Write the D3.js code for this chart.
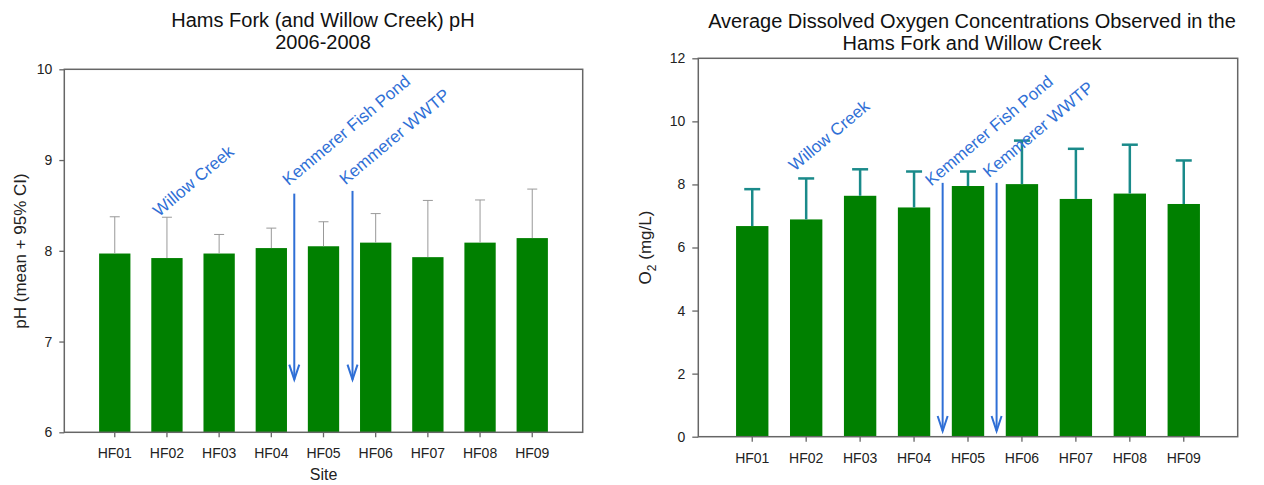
<!DOCTYPE html>
<html>
<head>
<meta charset="utf-8">
<script src="https://cdn.jsdelivr.net/npm/d3@7"></script>
<style>
  html, body { margin: 0; padding: 0; background: #fff; }
  svg { display: block; font-family: "Liberation Sans", Arial, sans-serif; }
</style>
</head>
<body>
<svg id="chart" width="1264" height="485"></svg>
<script>
// ---- data ----
const sites = ["HF01", "HF02", "HF03", "HF04", "HF05", "HF06", "HF07", "HF08", "HF09"];
const phMean  = [7.97, 7.92, 7.97, 8.03, 8.05, 8.09, 7.93, 8.09, 8.14];
const phUpper = [8.375, 8.37, 8.18, 8.25, 8.32, 8.41, 8.555, 8.56, 8.68];
const o2Mean  = [6.68, 6.89, 7.64, 7.27, 7.95, 8.01, 7.54, 7.71, 7.38];
const o2Upper = [7.85, 8.19, 8.48, 8.41, 8.41, 9.39, 9.13, 9.26, 8.76];
const phTicks = [6, 7, 8, 9, 10];
const o2Ticks = [0, 2, 4, 6, 8, 10, 12];
const annotationLabels = ["Willow Creek", "Kemmerer Fish Pond", "Kemmerer WWTP"];
// [fractional site index, value] of each label's start
const phLabelAt = [[0.85, 8.37], [3.33, 8.71], [4.42, 8.72]];
const o2LabelAt = [[0.79, 8.40], [3.32, 7.93], [4.39, 8.20]];
// [fractional site index, top value, tip value]
const phArrows = [[3.44, 8.63, 6.58], [4.556, 8.66, 6.58]];
const o2Arrows = [[3.53, 8.05, 0.18], [4.53, 8.05, 0.18]];
const phTitle = ["Hams Fork (and Willow Creek) pH", "2006-2008"];
const o2Title = ["Average Dissolved Oxygen Concentrations Observed in the", "Hams Fork and Willow Creek"];

const svg = d3.select("#chart");
const BAR = "#008000";
const BLUE = "#2f6fd6";
const FRAME = "#666";

function panel(cfg) {
  const g = svg.append("g");
  const x = d3.scaleBand().domain(sites).range([cfg.left, cfg.right])
    .paddingInner(0.4).paddingOuter(cfg.po);
  const y = d3.scaleLinear().domain(cfg.domain).range([cfg.bottom, cfg.top]);
  const xi = i => x(sites[0]) + x.bandwidth() / 2 + i * x.step();

  // bars
  g.selectAll("rect.bar").data(sites).join("rect")
    .attr("x", d => x(d)).attr("width", x.bandwidth())
    .attr("y", (d, i) => y(cfg.mean[i]))
    .attr("height", (d, i) => y(cfg.domain[0]) - y(cfg.mean[i]))
    .attr("fill", BAR);

  // error bars
  const eb = g.append("g").attr("stroke", cfg.errColor).attr("stroke-width", cfg.errWidth).attr("fill", "none");
  sites.forEach((s, i) => {
    const cx = x(s) + x.bandwidth() / 2;
    eb.append("line").attr("x1", cx).attr("x2", cx).attr("y1", y(cfg.mean[i])).attr("y2", y(cfg.upper[i]));
    eb.append("line").attr("x1", cx - cfg.cap / 2).attr("x2", cx + cfg.cap / 2)
      .attr("y1", y(cfg.upper[i])).attr("y2", y(cfg.upper[i]));
  });

  // frame
  g.append("rect").attr("x", cfg.left).attr("y", cfg.top)
    .attr("width", cfg.right - cfg.left).attr("height", cfg.bottom - cfg.top)
    .attr("fill", "none").attr("stroke", FRAME).attr("stroke-width", 1.5);

  // axes
  const ya = g.append("g").attr("transform", `translate(${cfg.left},0)`)
    .call(d3.axisLeft(y).tickValues(cfg.ticks).tickSize(cfg.tickSize).tickPadding(7).tickFormat(d3.format("d")));
  const xa = g.append("g").attr("transform", `translate(0,${cfg.bottom})`)
    .call(d3.axisBottom(x).tickSize(5).tickPadding(11));
  [ya, xa].forEach(a => {
    a.select(".domain").remove();
    a.selectAll(".tick line").attr("stroke", FRAME).attr("stroke-width", 1.3);
    a.selectAll(".tick text").attr("fill", "#222").style("font-size", "14px")
      .style("font-family", "Liberation Sans, Arial, sans-serif");
  });

  // titles
  const cx = cfg.titleX;
  cfg.title.forEach((t, k) => {
    g.append("text").attr("x", cx).attr("y", cfg.titleY + k * 22)
      .attr("text-anchor", "middle").attr("fill", "#111").style("font-size", "20px").text(t);
  });

  // annotations
  cfg.labelAt.forEach((p, k) => {
    g.append("text").attr("transform", `translate(${xi(p[0])},${y(p[1])}) rotate(-40)`)
      .attr("fill", BLUE).style("font-size", "17px").text(annotationLabels[k]);
  });
  cfg.arrows.forEach(a => {
    const ax = xi(a[0]), yt = y(a[1]), yb = y(a[2]);
    g.append("line").attr("x1", ax).attr("x2", ax).attr("y1", yt).attr("y2", yb)
      .attr("stroke", BLUE).attr("stroke-width", 2);
    g.append("path").attr("d", `M${ax - 5},${yb - 15}L${ax},${yb}L${ax + 5},${yb - 15}`)
      .attr("fill", "none").attr("stroke", BLUE).attr("stroke-width", 2);
  });
  return { g, x, y };
}

const L = panel({
  left: 64.3, right: 582.7, top: 69.3, bottom: 432.3, po: 0.667,
  domain: [6, 10], ticks: phTicks, tickSize: 5,
  mean: phMean, upper: phUpper, errColor: "#999", errWidth: 1, cap: 10,
  title: phTitle, titleX: 323, titleY: 27,
  labelAt: phLabelAt, arrows: phArrows
});
L.g.append("text").attr("x", 323.5).attr("y", 480).attr("text-anchor", "middle")
  .attr("fill", "#222").style("font-size", "16px").text("Site");
L.g.append("text").attr("transform", "translate(26,251) rotate(-90)").attr("text-anchor", "middle")
  .attr("fill", "#222").style("font-size", "17px").text("pH (mean + 95% CI)");

const R = panel({
  left: 698.3, right: 1237.7, top: 58.3, bottom: 436.7, po: 0.7,
  domain: [0, 12], ticks: o2Ticks, tickSize: 6,
  mean: o2Mean, upper: o2Upper, errColor: "#1a8a8a", errWidth: 2.5, cap: 16,
  title: o2Title, titleX: 972, titleY: 28,
  labelAt: o2LabelAt, arrows: o2Arrows
});
const o2lab = R.g.append("text").attr("transform", "translate(651,247.5) rotate(-90)")
  .attr("text-anchor", "middle").attr("fill", "#222").style("font-size", "17px");
o2lab.append("tspan").text("O");
o2lab.append("tspan").attr("dy", 5).style("font-size", "12px").text("2");
o2lab.append("tspan").attr("dy", -5).text(" (mg/L)");
</script>
</body>
</html>
